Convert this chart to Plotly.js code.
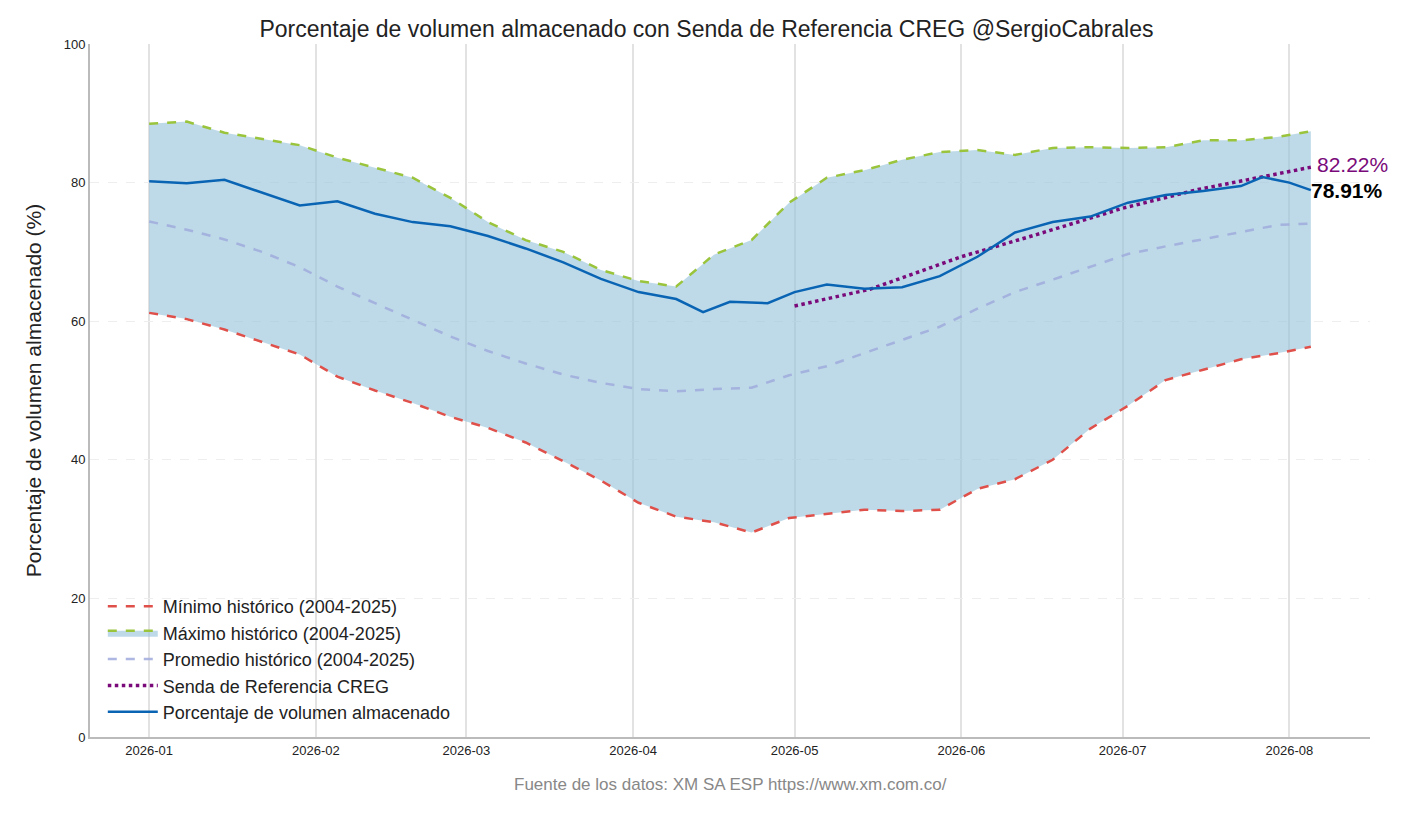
<!DOCTYPE html>
<html><head><meta charset="utf-8">
<script src="https://cdn.plot.ly/plotly-3.0.1.min.js"></script>
<style>body{margin:0;background:#fff}#chart{width:1413px;height:820px}</style>
</head><body><div id="chart"></div>
<script>
// weekly reading of the historic envelope
let histDates = ['2026-01-01','2026-01-08','2026-01-15','2026-01-22','2026-01-29','2026-02-05','2026-02-12','2026-02-19','2026-02-26',
  '2026-03-05','2026-03-12','2026-03-19','2026-03-26','2026-04-02','2026-04-09','2026-04-16','2026-04-23','2026-04-30',
  '2026-05-07','2026-05-14','2026-05-21','2026-05-28','2026-06-04','2026-06-11','2026-06-18','2026-06-25',
  '2026-07-02','2026-07-09','2026-07-16','2026-07-23','2026-07-30','2026-08-05'];
let minHist = [61.2,60.3,58.8,57.0,55.2,52.0,50.0,48.2,46.2,44.6,42.5,39.8,37.0,33.8,31.8,31.0,29.5,31.6,
  32.2,32.8,32.6,32.8,35.8,37.2,40.0,44.5,47.8,51.5,53.0,54.5,55.4,56.3];
let maxHist = [88.5,88.8,87.2,86.3,85.4,83.6,82.2,80.7,77.8,74.3,71.7,70.0,67.4,65.8,65.0,69.6,71.7,77.1,
  80.7,81.8,83.3,84.4,84.7,84.0,85.0,85.1,85.0,85.1,86.1,86.1,86.6,87.4];
let meanHist = [74.4,73.2,71.8,70.0,67.8,65.0,62.6,60.2,57.8,55.7,53.9,52.3,51.1,50.2,49.9,50.2,50.4,52.2,
  53.5,55.4,57.3,59.2,61.8,64.2,66.0,67.8,69.7,70.8,71.8,72.9,73.9,74.1];
let curDates = ['2026-01-01','2026-01-08','2026-01-15','2026-01-22','2026-01-29','2026-02-05','2026-02-12','2026-02-19','2026-02-26',
  '2026-03-05','2026-03-12','2026-03-19','2026-03-26','2026-04-02','2026-04-09','2026-04-14','2026-04-19','2026-04-26','2026-05-01',
  '2026-05-07','2026-05-14','2026-05-21','2026-05-28','2026-06-04','2026-06-11','2026-06-18','2026-06-25',
  '2026-07-02','2026-07-09','2026-07-16','2026-07-23','2026-07-27','2026-08-01','2026-08-05'];
let curVals = [80.2,79.9,80.4,78.5,76.7,77.3,75.5,74.3,73.7,72.3,70.5,68.5,66.1,64.2,63.2,61.3,62.8,62.6,64.2,
  65.3,64.7,64.9,66.5,69.3,72.8,74.3,75.1,77.1,78.2,78.8,79.5,80.8,80.0,78.91];
let cregDates = ['2026-05-01','2026-05-15','2026-06-01','2026-06-15','2026-07-01','2026-07-15','2026-08-01','2026-08-05'];
let cregVals = [62.2,64.6,69.3,72.5,76.3,79.0,81.6,82.22];
let monthTicks = ['2026-01-01','2026-02-01','2026-03-01','2026-04-01','2026-05-01','2026-06-01','2026-07-01','2026-08-01'];
let monthLabels = ['2026-01','2026-02','2026-03','2026-04','2026-05','2026-06','2026-07','2026-08'];

let traces = [
  {x: histDates, y: minHist, name: 'Mínimo histórico (2004-2025)', mode: 'lines',
   line: {color: '#e0504a', width: 2.5, dash: 'dash'}},
  {x: histDates, y: maxHist, name: 'Máximo histórico (2004-2025)', mode: 'lines', fill: 'tonexty',
   fillcolor: 'rgba(150,195,220,0.62)', line: {color: '#9ac43c', width: 2.5, dash: 'dash'}},
  {x: histDates, y: meanHist, name: 'Promedio histórico (2004-2025)', mode: 'lines',
   line: {color: 'rgba(160,170,220,0.85)', width: 2.5, dash: 'dash'}},
  {x: cregDates, y: cregVals, name: 'Senda de Referencia CREG', mode: 'lines',
   line: {color: '#7a0a7a', width: 3.5, dash: 'dot'}},
  {x: curDates, y: curVals, name: 'Porcentaje de volumen almacenado', mode: 'lines',
   line: {color: '#0a64b4', width: 2.5}}
];

let layout = {
  width: 1413, height: 820,
  margin: {l: 90, r: 43, t: 44, b: 83},
  paper_bgcolor: '#fff', plot_bgcolor: '#fff',
  font: {family: 'Liberation Sans, Arial, sans-serif', color: '#222'},
  title: {text: 'Porcentaje de volumen almacenado con Senda de Referencia CREG @SergioCabrales',
    font: {size: 23, color: '#222'}, x: 0.5, y: 0.975},
  xaxis: {range: ['2025-12-21', '2026-08-16'], tickvals: monthTicks, ticktext: monthLabels,
    showgrid: true, gridcolor: '#e2e2e2', gridwidth: 1.5, showline: true, linecolor: '#bbb', linewidth: 2,
    tickfont: {size: 13}, ticks: '', zeroline: false},
  yaxis: {range: [0, 100], tickvals: [0,20,40,60,80,100], showgrid: true, gridcolor: '#eeeeee', griddash: 'dash',
    showline: true, linecolor: '#bbb', linewidth: 2, tickfont: {size: 13}, zeroline: false, ticks: '',
    title: {text: 'Porcentaje de volumen almacenado (%)', font: {size: 21}, standoff: 16}},
  showlegend: true,
  legend: {x: 0.01, y: 0.01, xanchor: 'left', yanchor: 'bottom', font: {size: 18}, traceorder: 'normal',
    bgcolor: 'rgba(255,255,255,0)', itemwidth: 50},
  annotations: [
    {x: '2026-08-05', y: 82.22, text: '82.22%', showarrow: false, xanchor: 'left', xshift: 4, yshift: 3,
     font: {size: 21, color: '#7a0a7a'}},
    {x: '2026-08-05', y: 78.91, text: '<b>78.91%</b>', showarrow: false, xanchor: 'left', xshift: -2,
     font: {size: 21, color: '#000'}},
    {x: 0.5, y: -0.085, xref: 'paper', yref: 'paper', text: 'Fuente de los datos: XM SA ESP https://www.xm.com.co/',
     showarrow: false, font: {size: 17, color: '#888'}}
  ]
};
Plotly.newPlot('chart', traces, layout, {displayModeBar: false});
</script></body></html>
